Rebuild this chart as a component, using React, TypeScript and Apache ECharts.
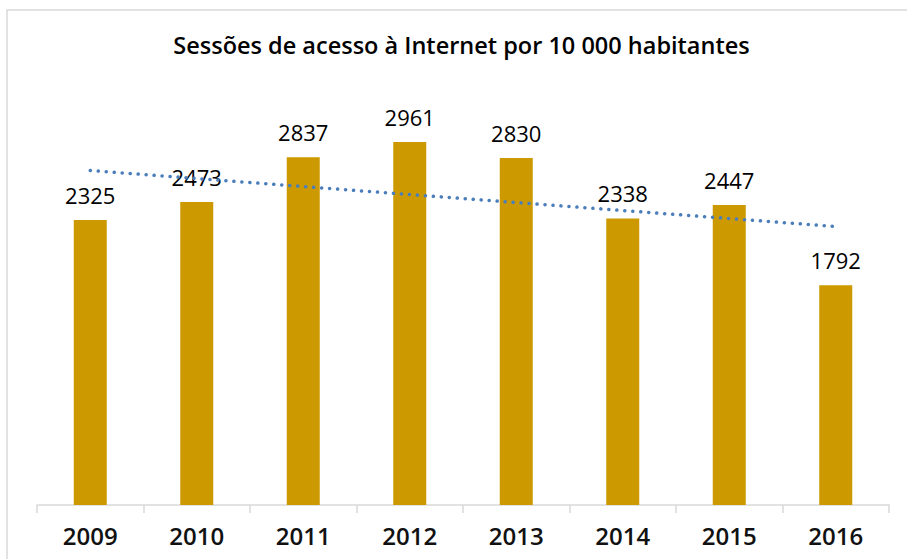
import React, { useEffect, useRef } from "react";
import * as echarts from "echarts";

const titleText = "Sessões de acesso à Internet por 10 000 habitantes";
const categories = ["2009", "2010", "2011", "2012", "2013", "2014", "2015", "2016"];
const sessions = [2325, 2473, 2837, 2961, 2830, 2338, 2447, 1792];
// linear trend line end values (first and last category)
const trendValues = [2729, 2272];

export default function App() {
  const ref = useRef<HTMLDivElement>(null);
  useEffect(() => {
    if (!ref.current) return;
    const chart = echarts.init(ref.current, null, { renderer: "svg" });
    chart.setOption({
      animation: false,
      backgroundColor: "#ffffff",
      graphic: [
        {
          type: "rect",
          shape: { x: 7, y: 10, width: 960, height: 620 },
          style: { fill: "none", stroke: "#D9D9D9", lineWidth: 1.5 },
          silent: true,
        },
        {
          type: "text",
          x: 461.5,
          y: 45,
          silent: true,
          style: {
            text: titleText,
            align: "center",
            verticalAlign: "middle",
            fontFamily: "Open Sans",
            fontWeight: 600,
            fontSize: 23.5,
            fill: "#000000",
          },
        },
      ],
      grid: { left: 37, right: 18, top: 76, bottom: 54 },
      xAxis: {
        type: "category",
        data: categories,
        axisLine: { show: true, lineStyle: { color: "#D9D9D9", width: 1.5 } },
        axisTick: { show: true, length: 8, lineStyle: { color: "#D9D9D9", width: 1.5 } },
        axisLabel: {
          fontFamily: "Open Sans",
          fontWeight: 600,
          fontSize: 24,
          color: "#111111",
          margin: 18,
        },
      },
      yAxis: {
        type: "value",
        min: 0,
        max: 3500,
        show: false,
        splitLine: { show: false },
      },
      series: [
        {
          type: "bar",
          data: sessions,
          barWidth: 33,
          itemStyle: { color: "#CC9900" },
          label: {
            show: true,
            position: "top",
            distance: 14,
            fontFamily: "Open Sans",
            fontSize: 22,
            color: "#000000",
          },
          markLine: {
            silent: true,
            symbol: ["none", "none"],
            label: { show: false },
            lineStyle: {
              color: "#4A7EBB",
              width: 3.5,
              type: [0.1, 7.9],
              cap: "round",
            },
            emphasis: { disabled: true },
            data: [
              [
                { coord: [categories[0], trendValues[0]] },
                { coord: [categories[categories.length - 1], trendValues[1]] },
              ],
            ],
          },
        },
      ],
    });
    return () => chart.dispose();
  }, []);
  return (
    <div
      ref={ref}
      style={{ width: 907, height: 559, position: "fixed", left: 0, top: 0 }}
    />
  );
}
